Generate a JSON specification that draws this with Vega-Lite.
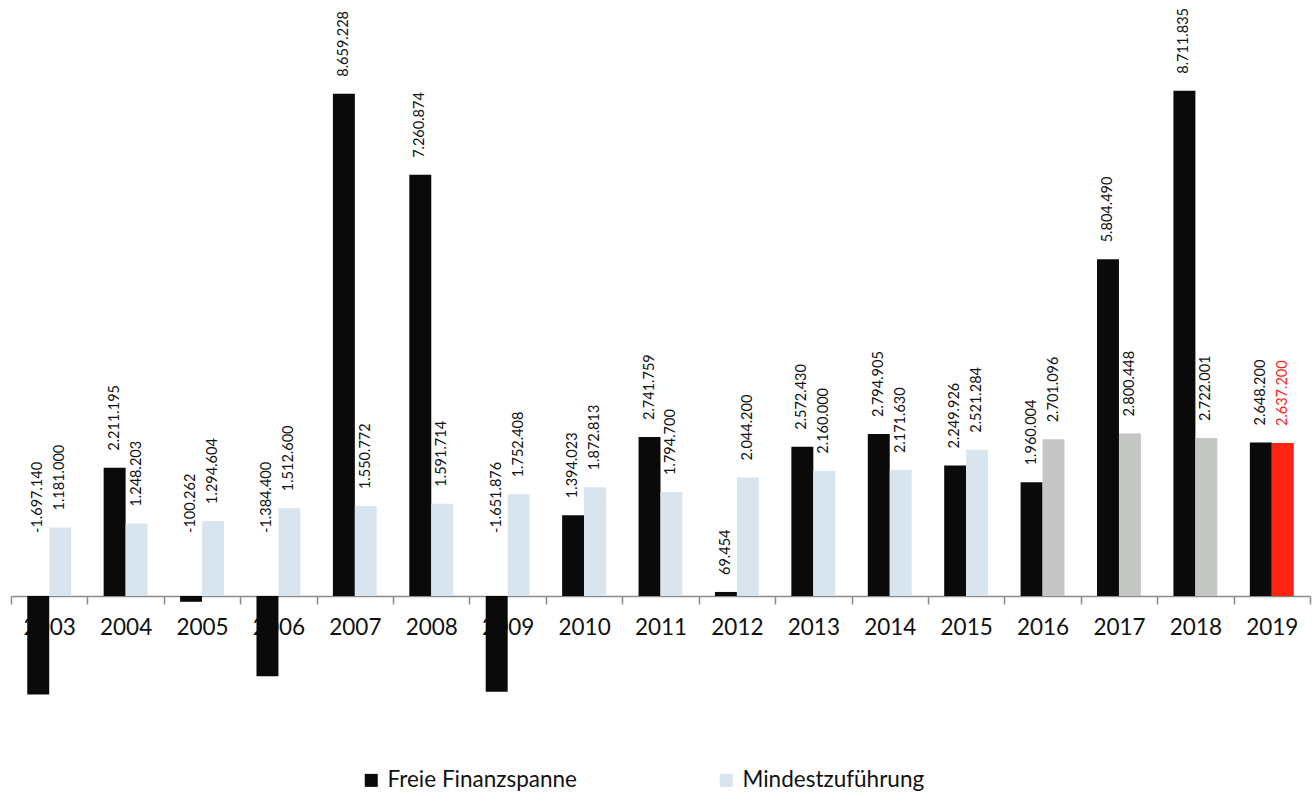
{
  "$schema": "https://vega.github.io/schema/vega-lite/v6.json",
  "width": 1299,
  "height": 710,
  "autosize": {"type": "none"},
  "padding": {"left": 11, "top": 0, "right": 4, "bottom": 86},
  "config": {
    "view": {"stroke": null},
    "font": "Lato",
    "locale": {
      "number": {"decimal": ",", "thousands": ".", "grouping": [3], "currency": ["", " €"], "minus": "-"}
    }
  },
  "data": {
    "values": [
      {"jahr": 2003, "serie": "Freie Finanzspanne", "wert": -1697140},
      {"jahr": 2003, "serie": "Mindestzuführung", "wert": 1181000},
      {"jahr": 2004, "serie": "Freie Finanzspanne", "wert": 2211195},
      {"jahr": 2004, "serie": "Mindestzuführung", "wert": 1248203},
      {"jahr": 2005, "serie": "Freie Finanzspanne", "wert": -100262},
      {"jahr": 2005, "serie": "Mindestzuführung", "wert": 1294604},
      {"jahr": 2006, "serie": "Freie Finanzspanne", "wert": -1384400},
      {"jahr": 2006, "serie": "Mindestzuführung", "wert": 1512600},
      {"jahr": 2007, "serie": "Freie Finanzspanne", "wert": 8659228},
      {"jahr": 2007, "serie": "Mindestzuführung", "wert": 1550772},
      {"jahr": 2008, "serie": "Freie Finanzspanne", "wert": 7260874},
      {"jahr": 2008, "serie": "Mindestzuführung", "wert": 1591714},
      {"jahr": 2009, "serie": "Freie Finanzspanne", "wert": -1651876},
      {"jahr": 2009, "serie": "Mindestzuführung", "wert": 1752408},
      {"jahr": 2010, "serie": "Freie Finanzspanne", "wert": 1394023},
      {"jahr": 2010, "serie": "Mindestzuführung", "wert": 1872813},
      {"jahr": 2011, "serie": "Freie Finanzspanne", "wert": 2741759},
      {"jahr": 2011, "serie": "Mindestzuführung", "wert": 1794700},
      {"jahr": 2012, "serie": "Freie Finanzspanne", "wert": 69454},
      {"jahr": 2012, "serie": "Mindestzuführung", "wert": 2044200},
      {"jahr": 2013, "serie": "Freie Finanzspanne", "wert": 2572430},
      {"jahr": 2013, "serie": "Mindestzuführung", "wert": 2160000},
      {"jahr": 2014, "serie": "Freie Finanzspanne", "wert": 2794905},
      {"jahr": 2014, "serie": "Mindestzuführung", "wert": 2171630},
      {"jahr": 2015, "serie": "Freie Finanzspanne", "wert": 2249926},
      {"jahr": 2015, "serie": "Mindestzuführung", "wert": 2521284},
      {"jahr": 2016, "serie": "Freie Finanzspanne", "wert": 1960004},
      {"jahr": 2016, "serie": "Mindestzuführung", "wert": 2701096},
      {"jahr": 2017, "serie": "Freie Finanzspanne", "wert": 5804490},
      {"jahr": 2017, "serie": "Mindestzuführung", "wert": 2800448},
      {"jahr": 2018, "serie": "Freie Finanzspanne", "wert": 8711835},
      {"jahr": 2018, "serie": "Mindestzuführung", "wert": 2722001},
      {"jahr": 2019, "serie": "Freie Finanzspanne", "wert": 2648200},
      {"jahr": 2019, "serie": "Mindestzuführung", "wert": 2637200}
    ]
  },
  "encoding": {
    "x": {
      "field": "jahr",
      "type": "ordinal",
      "scale": {"paddingInner": 0, "paddingOuter": 0},
      "axis": {
        "title": null,
        "offset": -114,
        "labelAngle": 0,
        "labelFontSize": 22.5,
        "labelColor": "#111111",
        "labelPadding": 12,
        "tickBand": "extent",
        "tickSize": 8,
        "tickColor": "#8a8a8a",
        "tickWidth": 1.5,
        "domainColor": "#8a8a8a",
        "domainWidth": 1.5
      }
    },
    "xOffset": {
      "field": "serie",
      "type": "nominal",
      "sort": ["Freie Finanzspanne", "Mindestzuführung"],
      "scale": {"paddingInner": 0, "paddingOuter": 0.74}
    }
  },
  "layer": [
    {
      "mark": {"type": "bar"},
      "encoding": {
        "y": {
          "field": "wert",
          "type": "quantitative",
          "scale": {"domain": [-1966000, 10276000], "nice": false, "zero": true},
          "axis": null
        },
        "color": {
          "condition": [
            {"test": "datum.serie == 'Mindestzuführung' && datum.jahr == 2019", "value": "#ff2412"},
            {"test": "datum.serie == 'Mindestzuführung' && datum.jahr >= 2016", "value": "#c4c7c3"}
          ],
          "field": "serie",
          "type": "nominal",
          "scale": {
            "domain": ["Freie Finanzspanne", "Mindestzuführung"],
            "range": ["#0a0a0a", "#d9e5ee"]
          },
          "legend": {
            "title": null,
            "orient": "none",
            "legendX": 349,
            "legendY": 769,
            "direction": "horizontal",
            "columns": 2,
            "columnPadding": 138,
            "symbolType": "square",
            "symbolSize": 169,
            "symbolStrokeWidth": 0,
            "labelFontSize": 22.5,
            "labelLimit": 0,
            "labelColor": "#111111",
            "labelOffset": 5
          }
        }
      }
    },
    {
      "transform": [{"filter": "datum.wert >= 0"}],
      "mark": {"type": "text", "angle": 270, "align": "left", "baseline": "middle", "dx": 17, "fontSize": 14.5},
      "encoding": {
        "y": {"field": "wert", "type": "quantitative"},
        "text": {"field": "wert", "type": "quantitative", "format": ",d"},
        "color": {
          "condition": {"test": "datum.serie == 'Mindestzuführung' && datum.jahr == 2019", "value": "#ff2412"},
          "value": "#111111"
        }
      }
    },
    {
      "transform": [{"filter": "datum.wert < 0"}],
      "mark": {"type": "text", "angle": 270, "align": "left", "baseline": "middle", "dx": 63, "fontSize": 14.5, "color": "#111111"},
      "encoding": {
        "y": {"datum": 0, "type": "quantitative"},
        "text": {"field": "wert", "type": "quantitative", "format": ",d"}
      }
    }
  ]
}
